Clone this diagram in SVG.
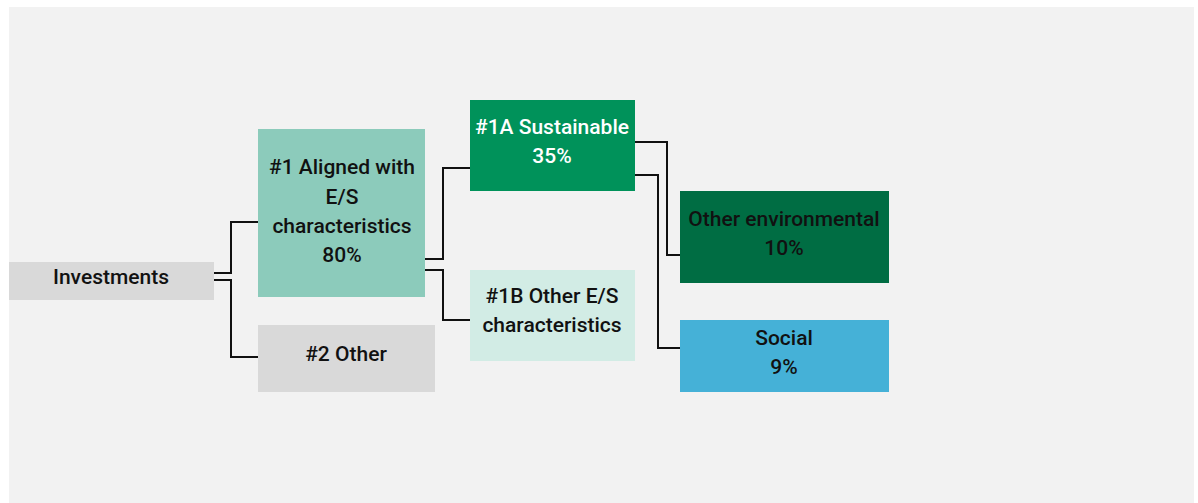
<svg xmlns="http://www.w3.org/2000/svg" width="1198" height="503" viewBox="0 0 1198 503">
<style>
.t{font-family:Roboto,"Liberation Sans",sans-serif;font-size:21px;font-weight:500;text-anchor:middle;fill:#111}
.w{fill:#ffffff}
.c{fill:none;stroke:#111;stroke-width:2}
</style>
<rect x="0" y="0" width="1198" height="503" fill="#ffffff"/>
<rect x="9" y="7" width="1185" height="496" fill="#f2f2f2"/>
<g id="connectors">
<polyline class="c" points="213,273 231,273 231,222 258,222"/>
<polyline class="c" points="213,280 231,280 231,357 258,357"/>
<polyline class="c" points="425,259 443,259 443,168 470,168"/>
<polyline class="c" points="425,270 443,270 443,320 470,320"/>
<polyline class="c" points="635,142 667,142 667,255 680,255"/>
<polyline class="c" points="635,175 658,175 658,348 680,348"/>
</g>
<g id="investments">
<rect x="9" y="262" width="205" height="38" fill="#d9d9d9"/>
<text class="t" x="111" y="284">Investments</text>
</g>
<g id="aligned">
<rect x="258" y="129" width="167" height="168" fill="#8ccbbb"/>
<text class="t" x="342" y="174">#1 Aligned with</text>
<text class="t" x="342" y="203.5">E/S</text>
<text class="t" x="342" y="233">characteristics</text>
<text class="t" x="342" y="262">80%</text>
</g>
<g id="other2">
<rect x="258" y="325" width="177" height="67" fill="#d9d9d9"/>
<text class="t" x="346" y="361">#2 Other</text>
</g>
<g id="sustainable">
<rect x="470" y="100" width="165" height="91" fill="#00925a"/>
<text class="t w" x="552" y="134">#1A Sustainable</text>
<text class="t w" x="552" y="163">35%</text>
</g>
<g id="otheres">
<rect x="470" y="270" width="165" height="91" fill="#d2ece5"/>
<text class="t" x="552" y="303">#1B Other E/S</text>
<text class="t" x="552" y="332">characteristics</text>
</g>
<g id="otherenv">
<rect x="680" y="191" width="209" height="92" fill="#006d43"/>
<text class="t" x="784" y="226">Other environmental</text>
<text class="t" x="784" y="255">10%</text>
</g>
<g id="social">
<rect x="680" y="320" width="209" height="72" fill="#45b1d7"/>
<text class="t" x="784" y="345">Social</text>
<text class="t" x="784" y="374">9%</text>
</g>
</svg>
